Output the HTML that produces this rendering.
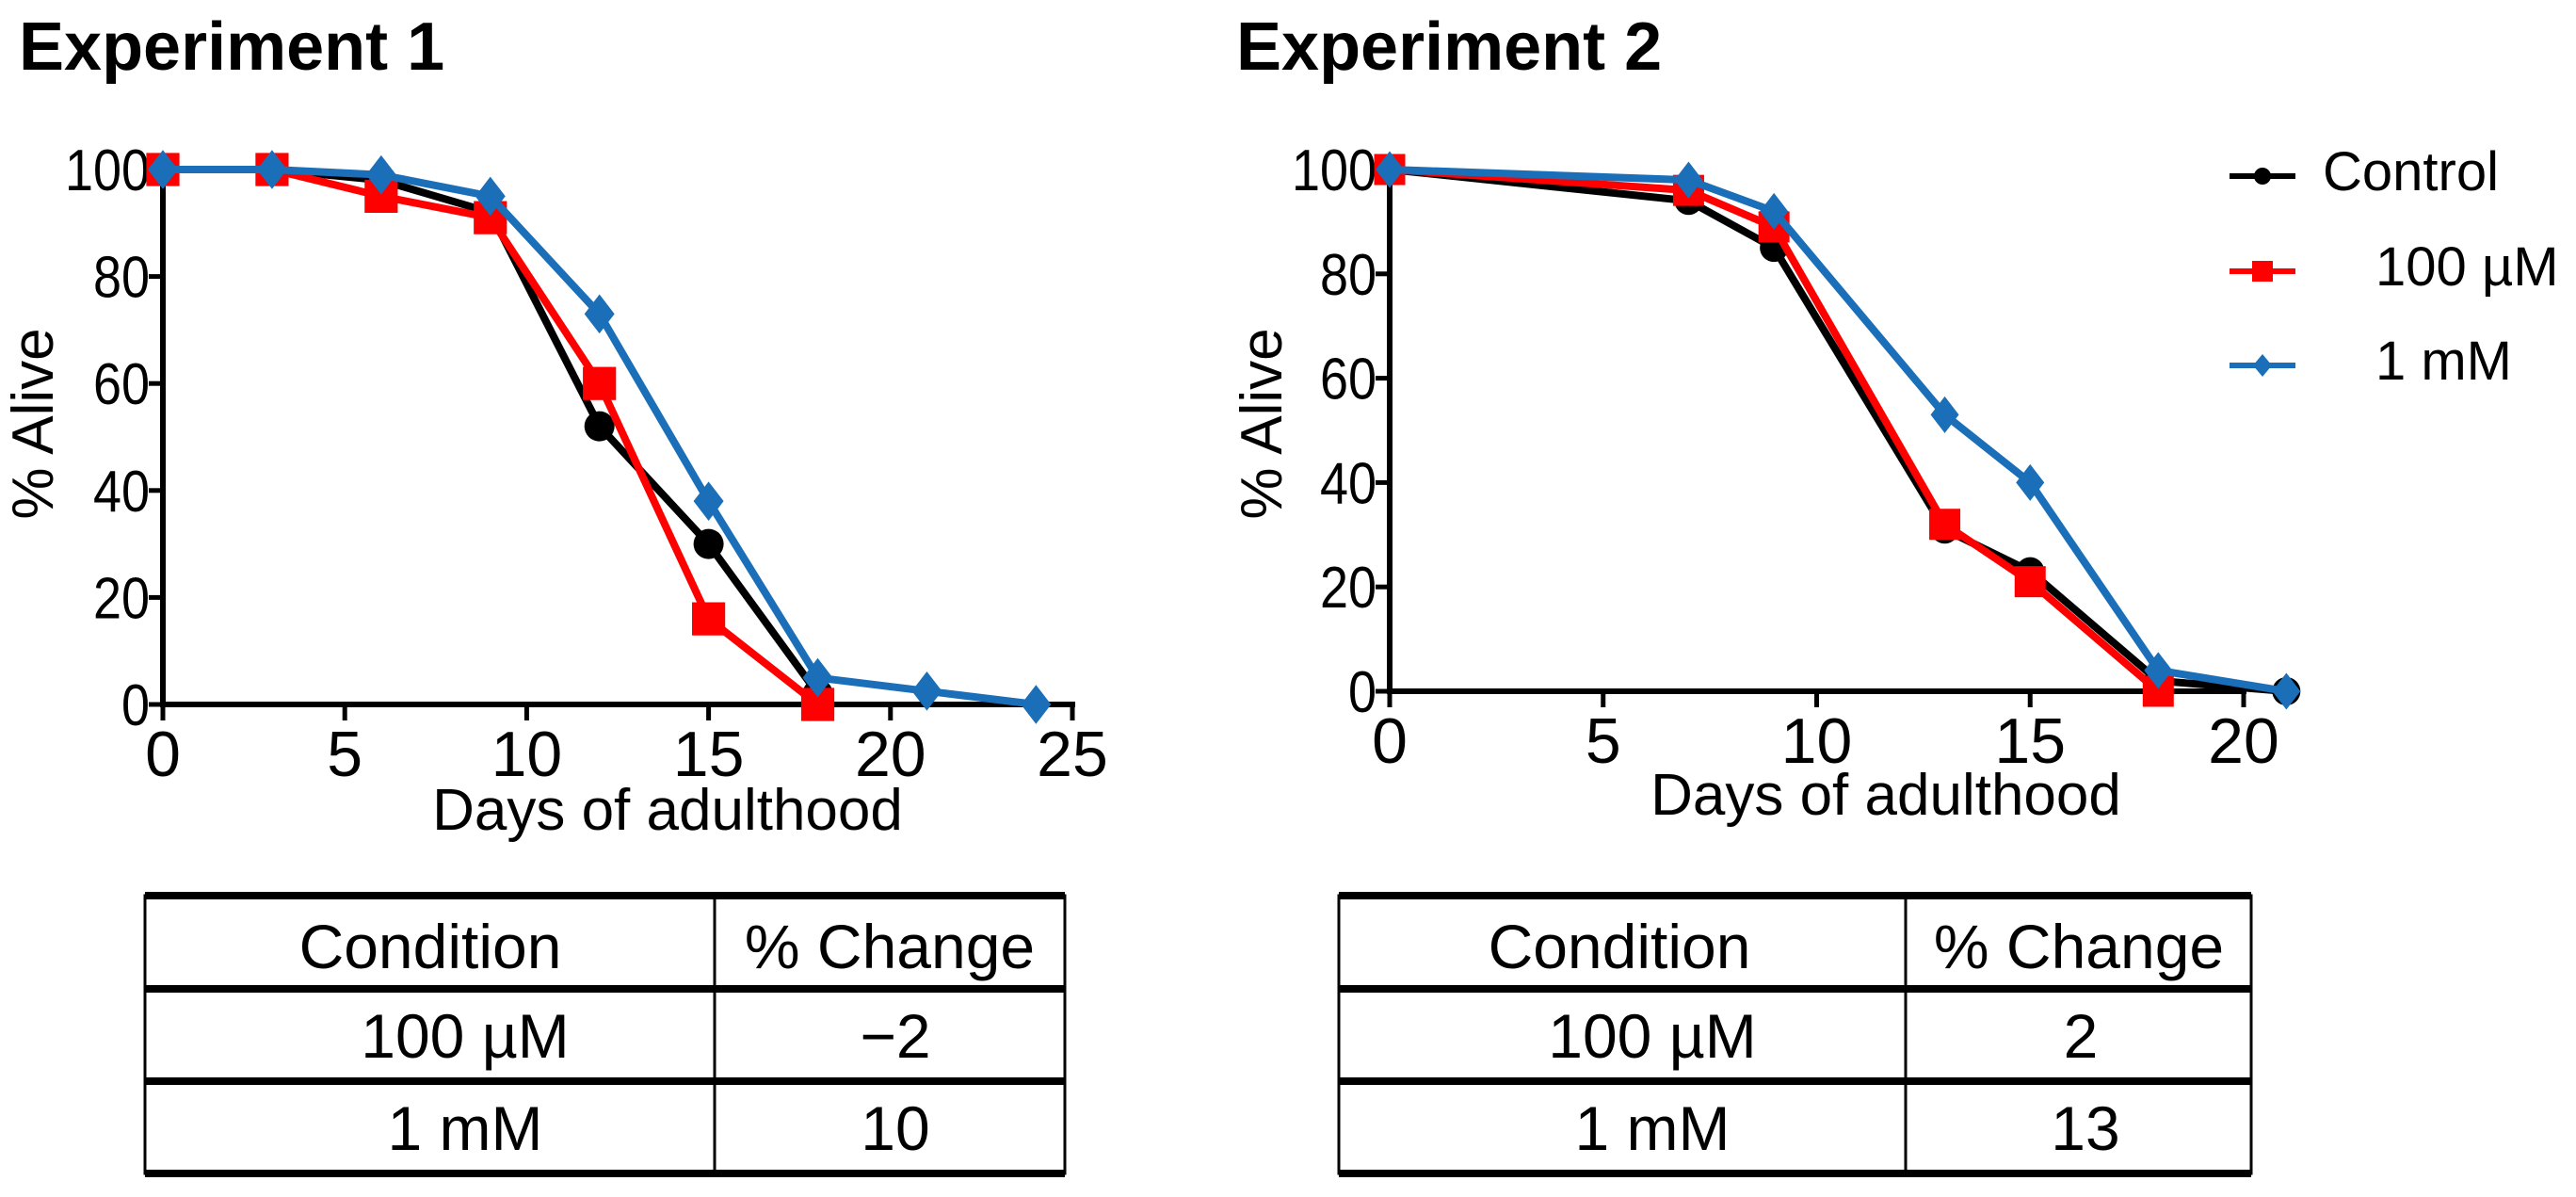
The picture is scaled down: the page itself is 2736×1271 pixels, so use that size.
<!DOCTYPE html>
<html><head><meta charset="utf-8"><style>
html,body{margin:0;padding:0;background:#fff;}
svg{display:block;font-family:"Liberation Sans",Arial,sans-serif;}
</style></head><body>
<svg id="fig" width="2736" height="1271" viewBox="0 0 2736 1271">
<text x="20" y="74" font-size="72" font-weight="bold">Experiment 1</text>
<text x="1313" y="74" font-size="72" font-weight="bold">Experiment 2</text>
<text transform="translate(56,450) rotate(-90)" text-anchor="middle" font-size="62">% Alive</text>
<text transform="translate(1361,450) rotate(-90)" text-anchor="middle" font-size="62">% Alive</text>
<text x="709" y="881" text-anchor="middle" font-size="62">Days of adulthood</text>
<text x="2003" y="865" text-anchor="middle" font-size="62">Days of adulthood</text>
<g id="legend">
  <g>
    <line x1="2368" y1="187" x2="2438" y2="187" stroke="#000" stroke-width="6"/>
    <circle cx="2403" cy="187" r="9" fill="#000"/>
    <text x="2467" y="202" font-size="58">Control</text>
  </g>
  <g>
    <line x1="2368" y1="288" x2="2438" y2="288" stroke="#f00" stroke-width="6"/>
    <rect x="2392" y="277" width="22" height="22" fill="#f00"/>
    <text x="2523" y="303" font-size="58">100 µM</text>
  </g>
  <g>
    <line x1="2368" y1="388" x2="2438" y2="388" stroke="#1a6fb8" stroke-width="6"/>
    <polygon points="2403,376 2413,388 2403,400 2393,388" fill="#1a6fb8"/>
    <text x="2523" y="403" font-size="58">1 mM</text>
  </g>
</g>
<g>
  <rect x="154" y="951" width="977" height="295" fill="none" stroke="#000" stroke-width="3"/>
  <line x1="154" y1="951" x2="1131" y2="951" stroke="#000" stroke-width="8"/>
  <line x1="154" y1="1050" x2="1131" y2="1050" stroke="#000" stroke-width="8"/>
  <line x1="154" y1="1148" x2="1131" y2="1148" stroke="#000" stroke-width="8"/>
  <line x1="154" y1="1246" x2="1131" y2="1246" stroke="#000" stroke-width="8"/>
  <line x1="759" y1="951" x2="759" y2="1246" stroke="#000" stroke-width="3"/>
  <text x="457" y="1028" text-anchor="middle" font-size="66">Condition</text>
  <text x="945" y="1028" text-anchor="middle" font-size="66">% Change</text>
  <text x="494" y="1123" text-anchor="middle" font-size="66">100 µM</text>
  <text x="951" y="1123" text-anchor="middle" font-size="66">−2</text>
  <text x="494" y="1221" text-anchor="middle" font-size="66">1 mM</text>
  <text x="951" y="1221" text-anchor="middle" font-size="66">10</text>
</g>
<g>
  <rect x="1422" y="951" width="969" height="295" fill="none" stroke="#000" stroke-width="3"/>
  <line x1="1422" y1="951" x2="2391" y2="951" stroke="#000" stroke-width="8"/>
  <line x1="1422" y1="1050" x2="2391" y2="1050" stroke="#000" stroke-width="8"/>
  <line x1="1422" y1="1148" x2="2391" y2="1148" stroke="#000" stroke-width="8"/>
  <line x1="1422" y1="1246" x2="2391" y2="1246" stroke="#000" stroke-width="8"/>
  <line x1="2024" y1="951" x2="2024" y2="1246" stroke="#000" stroke-width="3"/>
  <text x="1720" y="1028" text-anchor="middle" font-size="66">Condition</text>
  <text x="2208" y="1028" text-anchor="middle" font-size="66">% Change</text>
  <text x="1755" y="1123" text-anchor="middle" font-size="66">100 µM</text>
  <text x="2210" y="1123" text-anchor="middle" font-size="66">2</text>
  <text x="1755" y="1221" text-anchor="middle" font-size="66">1 mM</text>
  <text x="2215" y="1221" text-anchor="middle" font-size="66">13</text>
</g>
</svg>
<script>
const yTicks = [0, 20, 40, 60, 80, 100];
const xTicks1 = [0, 5, 10, 15, 20, 25];
const xTicks2 = [0, 5, 10, 15, 20];
const e1ControlDays = [0, 3, 6, 9, 12, 15, 18];
const e1ControlVals = [100, 100, 98, 92, 52, 30, 2];
const e1LowDays = [0, 3, 6, 9, 12, 15, 18];
const e1LowVals = [100, 100, 95, 91, 60, 16, 0];
const e1HighDays = [0, 3, 6, 9, 12, 15, 18, 21, 24];
const e1HighVals = [100, 100, 99, 95, 73, 38, 5, 2.5, 0];
const e2ControlDays = [0, 7, 9, 13, 15, 18, 21];
const e2ControlVals = [100, 94, 85, 31, 23, 2, 0];
const e2LowDays = [0, 7, 9, 13, 15, 18];
const e2LowVals = [100, 96, 89, 32, 21, 0];
const e2HighDays = [0, 7, 9, 13, 15, 18, 21];
const e2HighVals = [100, 98, 92, 53, 40, 4, 0];

const NS = 'http://www.w3.org/2000/svg';
const svg = document.getElementById('fig');
function mk(tag, attrs, parent) {
  const el = document.createElementNS(NS, tag);
  for (const k in attrs) el.setAttribute(k, attrs[k]);
  (parent || svg).appendChild(el);
  return el;
}
function chart(cfg) {
  const sx = v => cfg.x0 + v / cfg.xmax * (cfg.x1 - cfg.x0);
  const sy = v => cfg.y0 + v / 100 * (cfg.y1 - cfg.y0);
  const g = mk('g', {});
  
  
  const ax = mk('g', {}, g);
  
  
  mk('line', {x1: cfg.x0, y1: sy(100) - 5, x2: cfg.x0, y2: cfg.y0 + 3, stroke: '#000', 'stroke-width': 6}, ax);
  mk('line', {x1: cfg.x0 - 3, y1: cfg.y0, x2: cfg.x1 + 3, y2: cfg.y0, stroke: '#000', 'stroke-width': 6}, ax);
  yTicks.forEach(t => {
    mk('line', {x1: cfg.x0 - 15, y1: sy(t), x2: cfg.x0, y2: sy(t), stroke: '#000', 'stroke-width': 5}, ax);
    const tx = mk('text', {x: cfg.x0 - 14, y: sy(t) + 22, 'text-anchor': 'end', 'font-size': 62, 'textLength': String(t).length * 30, 'lengthAdjust': 'spacingAndGlyphs'}, ax);
    tx.textContent = t;
    
    
  });
  cfg.xTicks.forEach(t => {
    mk('line', {x1: sx(t), y1: cfg.y0, x2: sx(t), y2: cfg.y0 + 17, stroke: '#000', 'stroke-width': 5}, ax);
    const tx = mk('text', {x: sx(t), y: cfg.y0 + 76, 'text-anchor': 'middle', 'font-size': 68}, ax);
    tx.textContent = t;
    
    
  });
  cfg.series.forEach(s => {
    const sg = mk('g', {}, g);
    
    
    const pts = s.days.map((d, i) => sx(d) + ',' + sy(s.vals[i])).join(' ');
    mk('polyline', {points: pts, fill: 'none', stroke: s.color, 'stroke-width': 8, 'stroke-linejoin': 'round'}, sg);
    s.days.forEach((d, i) => {
      const x = sx(d), y = sy(s.vals[i]);
      let m;
      if (s.marker === 'circle') m = mk('circle', {cx: x, cy: y, r: cfg.ms * 0.5, fill: s.color}, sg);
      else if (s.marker === 'square') m = mk('rect', {x: x - cfg.ms * 0.55, y: y - cfg.ms * 0.55, width: cfg.ms * 1.1, height: cfg.ms * 1.1, fill: s.color}, sg);
      else m = mk('polygon', {points: `${x},${y - cfg.ms * 0.65} ${x + cfg.ms * 0.5},${y} ${x},${y + cfg.ms * 0.65} ${x - cfg.ms * 0.5},${y}`, fill: s.color}, sg);
      
      
    });
  });
}
chart({name: 'experiment-1-chart', x0: 173, x1: 1139, xmax: 25, y0: 748, y1: 180, ms: 32, xTicks: xTicks1,
  series: [
    {name: 'control-series-1', days: e1ControlDays, vals: e1ControlVals, color: '#000', marker: 'circle'},
    {name: '100uM-series-1', days: e1LowDays, vals: e1LowVals, color: '#f00', marker: 'square'},
    {name: '1mM-series-1', days: e1HighDays, vals: e1HighVals, color: '#1a6fb8', marker: 'diamond'}
  ]});
chart({name: 'experiment-2-chart', x0: 1476, x1: 2383, xmax: 20, y0: 734, y1: 180, ms: 30, xTicks: xTicks2,
  series: [
    {name: 'control-series-2', days: e2ControlDays, vals: e2ControlVals, color: '#000', marker: 'circle'},
    {name: '100uM-series-2', days: e2LowDays, vals: e2LowVals, color: '#f00', marker: 'square'},
    {name: '1mM-series-2', days: e2HighDays, vals: e2HighVals, color: '#1a6fb8', marker: 'diamond'}
  ]});
</script>
</body></html>
